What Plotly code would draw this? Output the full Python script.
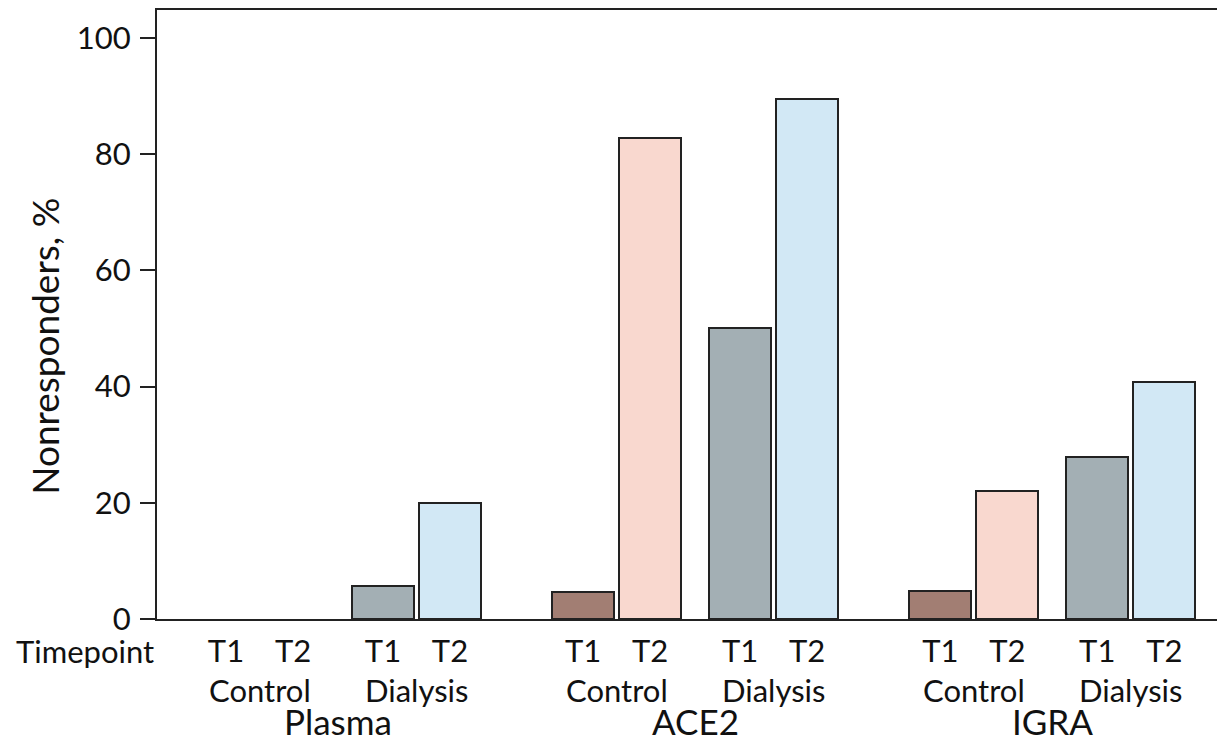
import plotly.graph_objects as go

# ---- data ----
groups = ["Plasma", "ACE2", "IGRA"]
conditions = ["Control", "Dialysis"]
timepoints = ["T1", "T2"]
control_t1 = [0.0, 4.6, 4.8]
control_t2 = [0.0, 82.7, 22.0]
dialysis_t1 = [5.7, 50.0, 27.8]
dialysis_t2 = [20.0, 89.5, 40.8]
y_ticks = [0, 20, 40, 60, 80, 100]

# ---- layout constants ----
GROUP_STEP = 5.33
COND_STEP = 2.343
BAR_W = 0.925
FONT = "Lato"
colors = {("Control", "T1"): "#A27E73", ("Control", "T2"): "#F9D8CF",
          ("Dialysis", "T1"): "#A3AFB4", ("Dialysis", "T2"): "#D2E8F5"}
series = {("Control", "T1"): control_t1, ("Control", "T2"): control_t2,
          ("Dialysis", "T1"): dialysis_t1, ("Dialysis", "T2"): dialysis_t2}

def xpos(g, c, t):
    return g * GROUP_STEP + c * COND_STEP + t

fig = go.Figure()
tickvals, ticktext = [], []
for ci, cond in enumerate(conditions):
    for ti, tp in enumerate(timepoints):
        xs = [xpos(g, ci, ti) for g in range(len(groups))]
        vals = series[(cond, tp)]
        fig.add_trace(go.Bar(
            x=xs, y=vals, width=BAR_W,
            marker=dict(color=colors[(cond, tp)],
                        line=dict(color="#222222", width=[2 if v > 0 else 0 for v in vals])),
            showlegend=False, hoverinfo="y"))
        tickvals += xs
        ticktext += [tp] * len(xs)

annotations = []
for g, grp in enumerate(groups):
    for ci, cond in enumerate(conditions):
        annotations.append(dict(x=xpos(g, ci, 0.5), y=0, xref="x", yref="paper",
                                text=cond, showarrow=False, yanchor="middle",
                                yshift=-71, font=dict(family=FONT, size=31, color="#111")))
    annotations.append(dict(x=xpos(g, 0.5, 0.5), y=0, xref="x", yref="paper",
                            text=grp, showarrow=False, yanchor="middle",
                            yshift=-102, font=dict(family=FONT, size=35, color="#111")))
annotations.append(dict(x=0, y=0, xref="paper", yref="paper", text="Timepoint",
                        showarrow=False, xanchor="center", yanchor="middle",
                        xshift=-72, yshift=-32, font=dict(family=FONT, size=31, color="#111")))
annotations.append(dict(x=0, y=0.447, xref="paper", yref="paper", text="Nonresponders, %",
                        showarrow=False, textangle=-90, xanchor="center", yanchor="middle",
                        xshift=-112, font=dict(family=FONT, size=37, color="#111")))

# page body has an 8px margin, so the figure is sized to fit inside it
fig.update_layout(
    width=1209, height=731,
    margin=dict(l=149, r=0, t=2, b=120),
    paper_bgcolor="white", plot_bgcolor="white",
    bargap=0, barmode="overlay",
    annotations=annotations,
    font=dict(family=FONT, color="#111"),
)
fig.update_xaxes(range=[-1.03, 14.79], tickvals=tickvals, ticktext=ticktext,
                 showgrid=False, zeroline=False, showline=True, linecolor="#222",
                 linewidth=2, mirror=True, ticks="", ticklabelstandoff=4,
                 tickfont=dict(family=FONT, size=31, color="#111"))
fig.update_yaxes(range=[0, 104.8], tickvals=y_ticks, showgrid=False, zeroline=False,
                 showline=True, linecolor="#222", linewidth=2, ticks="outside",
                 ticklen=15, tickwidth=2, tickcolor="#222", ticklabelstandoff=3,
                 tickfont=dict(family=FONT, size=31, color="#111"))

fig.write_html("out.html")
